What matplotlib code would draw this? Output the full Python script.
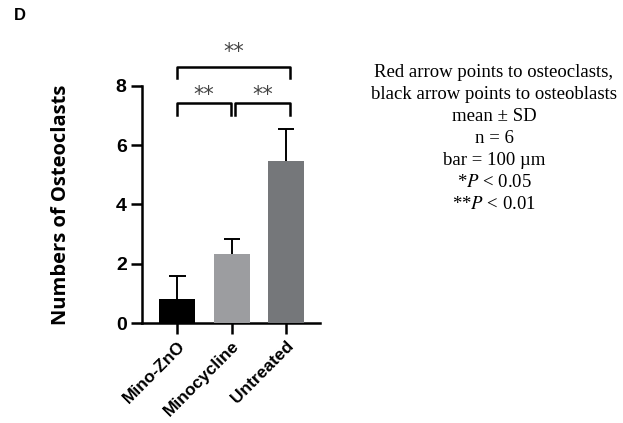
import matplotlib.pyplot as plt

# datos
grupos = ["Mino-ZnO", "Minocycline", "Untreated"]
medias = [0.82, 2.33, 5.47]
desv = [0.75, 0.5, 1.08]
colores = ["#000000", "#9c9da0", "#75777a"]
ticks_y = [0, 2, 4, 6, 8]

notas = ["Red arrow points to osteoclasts,",
         "black arrow points to osteoblasts",
         "mean \u00b1 SD",
         "n = 6",
         "bar = 100 \u00b5m",
         r"*$P$ < 0.05",
         r"**$P$ < 0.01"]

plt.rcParams['mathtext.fontset'] = 'stix'

fig = plt.figure(figsize=(6.23, 4.23), dpi=100)
ax = fig.add_axes([142/623, 1 - 323/423, 178/623, 237/423])

x = list(range(len(grupos)))
ax.bar(x, medias, width=0.66, color=colores, zorder=3)
# solo la parte superior del error (SD)
tope = [m + d for m, d in zip(medias, desv)]
ax.vlines(x, medias, tope, color='black', lw=1.4, zorder=2)
ax.hlines(tope, [i - 0.15 for i in x], [i + 0.15 for i in x], color='black',
          lw=1.4, zorder=2)

ax.set_xlim(-0.65, 2.62)
ax.set_ylim(0, 8)
ax.set_yticks(ticks_y)
ax.set_xticks(x)
ax.set_xticklabels(grupos, rotation=45, ha='right', rotation_mode='anchor',
                   fontsize=12.5, fontweight='bold', family='Liberation Sans')
for t in ax.get_yticklabels():
    t.set_fontsize(14)
    t.set_fontweight('bold')
    t.set_family('Liberation Sans')

for lado in ['top', 'right']:
    ax.spines[lado].set_visible(False)
for lado in ['left', 'bottom']:
    ax.spines[lado].set_linewidth(1.8)
ax.tick_params(axis='both', width=1.8, length=8, direction='out')
ax.tick_params(axis='x', pad=3)
ax.tick_params(axis='y', pad=3)

ax.set_ylabel("Numbers of Osteoclasts", fontsize=14.5, fontweight='bold',
              family='Open Sans')
ax.yaxis.set_label_coords(-0.40, 0.5)

# corchetes de significancia
def corchete(x1, x2, y, h):
    ax.plot([x1, x1, x2, x2], [y - h, y, y, y - h], color='black', lw=1.8,
            clip_on=False)

corchete(0, 2.07, 8.65, 0.38)
corchete(0, 0.98, 7.42, 0.4)
corchete(1.05, 2.07, 7.42, 0.4)
ax.text(1.03, 8.8, "**", ha='center', va='bottom', fontsize=15, color='#444444')
ax.text(0.49, 7.35, "**", ha='center', va='bottom', fontsize=15, color='#444444')
ax.text(1.56, 7.35, "**", ha='center', va='bottom', fontsize=15, color='#444444')

fig.text(14/623, 1 - 16/423, "D", fontsize=12, fontweight='bold',
         family='Liberation Sans', va='center', ha='left')

fig.text(494/623, 1 - 64/423, "\n".join(notas), ha='center', va='top',
         fontsize=13.5, family='Liberation Serif', linespacing=1.38)

fig.savefig("out.png", dpi=100)
